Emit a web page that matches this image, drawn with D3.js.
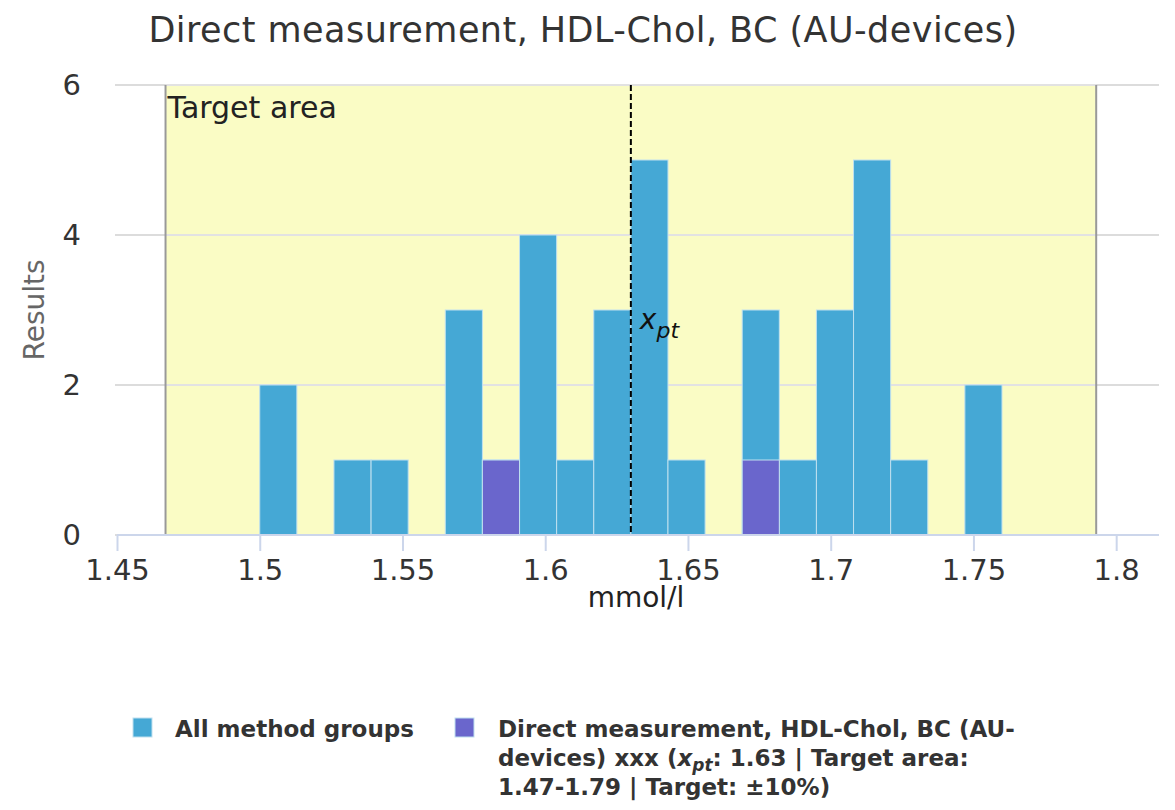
<!DOCTYPE html>
<html>
<head>
<meta charset="utf-8">
<script src="https://cdn.jsdelivr.net/npm/d3@7"></script>
<style>
  body { margin: 0; background: #fff; }
  text { font-family: "DejaVu Sans", Verdana, sans-serif; }
</style>
</head>
<body>
<div id="container"></div>
<script>
// histogram bins (lower edge, mmol/l), width of one bin
const binStarts = [1.500, 1.526, 1.539, 1.565, 1.578, 1.591, 1.604, 1.617, 1.630, 1.643, 1.669, 1.682, 1.695, 1.708, 1.721, 1.747];
const binWidth = 0.013;
// counts for all method groups
const allCounts = [2, 1, 1, 3, 1, 4, 1, 3, 5, 1, 3, 1, 3, 5, 1, 2];
// counts for the selected method group
const groupCounts = [0, 0, 0, 0, 1, 0, 0, 0, 0, 0, 1, 0, 0, 0, 0, 0];

const xTicks = [1.45, 1.5, 1.55, 1.6, 1.65, 1.7, 1.75, 1.8];
const yTicks = [0, 2, 4, 6];
const xpt = 1.63;
const targetArea = [1.467, 1.793];

const width = 1175;
const height = 810;
const plotLeft = 117, plotRight = 1159, plotTop = 85, plotBottom = 535;

const blue = "#45a8d5";
const purple = "#6a66cc";

const svg = d3.select("#container")
    .append("svg")
    .attr("width", width)
    .attr("height", height);

const xScale = d3.scaleLinear()
    .domain([1.45, 1.815])
    .range([plotLeft, plotRight]);

const yScale = d3.scaleLinear()
    .domain([0, 6])
    .range([plotBottom, plotTop]);

//title
svg.append("text")
    .attr("x", 583)
    .attr("y", 42)
    .attr("text-anchor", "middle")
    .attr("font-size", 35)
    .attr("letter-spacing", 0.45)
    .attr("fill", "#333")
    .text("Direct measurement, HDL-Chol, BC (AU-devices)");

//horizontal grid lines
yTicks.forEach(t => {
    svg.append("line")
        .attr("x1", plotLeft - 2)
        .attr("x2", plotRight)
        .attr("y1", yScale(t))
        .attr("y2", yScale(t))
        .attr("stroke", "#dcdcdc")
        .attr("stroke-width", 2);
});

//target area band
svg.append("rect")
    .attr("x", xScale(targetArea[0]))
    .attr("y", yScale(6))
    .attr("width", xScale(targetArea[1]) - xScale(targetArea[0]))
    .attr("height", yScale(0) - yScale(6))
    .attr("fill", "#fafcc5");

//grid lines again on top of the band
yTicks.forEach(t => {
    svg.append("line")
        .attr("x1", xScale(targetArea[0]))
        .attr("x2", xScale(targetArea[1]))
        .attr("y1", yScale(t))
        .attr("y2", yScale(t))
        .attr("stroke", "#e2e2e2")
        .attr("stroke-width", 2);
});

//band borders
targetArea.forEach(v => {
    svg.append("line")
        .attr("x1", xScale(v))
        .attr("x2", xScale(v))
        .attr("y1", yScale(6))
        .attr("y2", yScale(0))
        .attr("stroke", "#999")
        .attr("stroke-width", 2);
});

svg.append("text")
    .attr("x", xScale(targetArea[0]) + 2)
    .attr("y", 118)
    .attr("font-size", 30)
    .attr("fill", "#222")
    .text("Target area");

//bars for all method groups
binStarts.forEach((b, i) => {
    svg.append("rect")
        .attr("x", xScale(b))
        .attr("y", yScale(allCounts[i]))
        .attr("width", xScale(b + binWidth) - xScale(b))
        .attr("height", yScale(0) - yScale(allCounts[i]))
        .attr("fill", blue)
        .attr("stroke", "#bfe0ef")
        .attr("stroke-width", 1);
});

//bars for the selected group
binStarts.forEach((b, i) => {
    if (!groupCounts[i]) return;
    svg.append("rect")
        .attr("x", xScale(b))
        .attr("y", yScale(groupCounts[i]))
        .attr("width", xScale(b + binWidth) - xScale(b))
        .attr("height", yScale(0) - yScale(groupCounts[i]))
        .attr("fill", purple)
        .attr("stroke", "#bfe0ef")
        .attr("stroke-width", 1);
});

//x_pt line
svg.append("line")
    .attr("x1", xScale(xpt))
    .attr("x2", xScale(xpt))
    .attr("y1", yScale(6))
    .attr("y2", yScale(0))
    .attr("stroke", "#000")
    .attr("stroke-width", 2)
    .attr("stroke-dasharray", "6,3");

const xptLabel = svg.append("text")
    .attr("x", xScale(xpt) + 9)
    .attr("y", 329)
    .attr("fill", "#111")
    .attr("font-style", "italic");
xptLabel.append("tspan").attr("font-size", 28).text("x");
xptLabel.append("tspan").attr("font-size", 22).attr("dy", 9).text("pt");

//x axis
const xAxis = svg.append("g")
    .attr("transform", `translate(0,${plotBottom})`)
    .call(d3.axisBottom(xScale).tickValues(xTicks).tickSize(16).tickFormat(d3.format("")));
xAxis.select(".domain").attr("stroke", "#ccd6eb").attr("stroke-width", 2)
    .attr("d", `M${plotLeft},0H${plotRight}`);
xAxis.selectAll(".tick line").attr("stroke", "#ccd6eb").attr("stroke-width", 2);
xAxis.selectAll(".tick text")
    .attr("font-family", "DejaVu Sans")
    .attr("font-size", 29)
    .attr("fill", "#333")
    .attr("dy", "0.88em");

//y axis labels
const yAxis = svg.append("g")
    .attr("transform", `translate(${plotLeft - 2},0)`)
    .call(d3.axisLeft(yScale).tickValues(yTicks).tickSize(0).tickPadding(34).tickFormat(d3.format("d")));
yAxis.select(".domain").remove();
yAxis.selectAll(".tick text")
    .attr("font-family", "DejaVu Sans")
    .attr("font-size", 29)
    .attr("fill", "#333");

svg.append("text")
    .attr("x", 636)
    .attr("y", 607)
    .attr("text-anchor", "middle")
    .attr("font-size", 28)
    .attr("fill", "#222")
    .text("mmol/l");

svg.append("text")
    .attr("transform", `translate(44,${(plotTop + plotBottom) / 2}) rotate(-90)`)
    .attr("text-anchor", "middle")
    .attr("font-size", 28)
    .attr("fill", "#666")
    .text("Results");

//legend
const legend = svg.append("g");
legend.append("rect")
    .attr("x", 133).attr("y", 718).attr("width", 19).attr("height", 19)
    .attr("fill", blue).attr("stroke", "#bfe0ef");
legend.append("text")
    .attr("x", 175).attr("y", 737)
    .attr("font-size", 23).attr("font-weight", "bold").attr("fill", "#333")
    .text("All method groups");

legend.append("rect")
    .attr("x", 455).attr("y", 718).attr("width", 19).attr("height", 19)
    .attr("fill", purple).attr("stroke", "#bfe0ef");

const legendLines = [
    "Direct measurement, HDL-Chol, BC (AU-",
    null,
    "1.47-1.79 | Target: ±10%)"
];
const lt = legend.append("text")
    .attr("x", 498).attr("y", 737)
    .attr("font-size", 23).attr("font-weight", "bold").attr("fill", "#333");
lt.append("tspan").attr("x", 498).attr("y", 737).text(legendLines[0]);
const l2 = lt.append("tspan").attr("x", 498).attr("y", 766);
l2.append("tspan").text("devices) xxx (");
l2.append("tspan").attr("font-style", "italic").text("x");
l2.append("tspan").attr("font-style", "italic").attr("font-size", 17).attr("dy", 5).text("pt");
l2.append("tspan").attr("dy", -5).text(": 1.63 | Target area:");
lt.append("tspan").attr("x", 498).attr("y", 795).text(legendLines[2]);
</script>
</body>
</html>
